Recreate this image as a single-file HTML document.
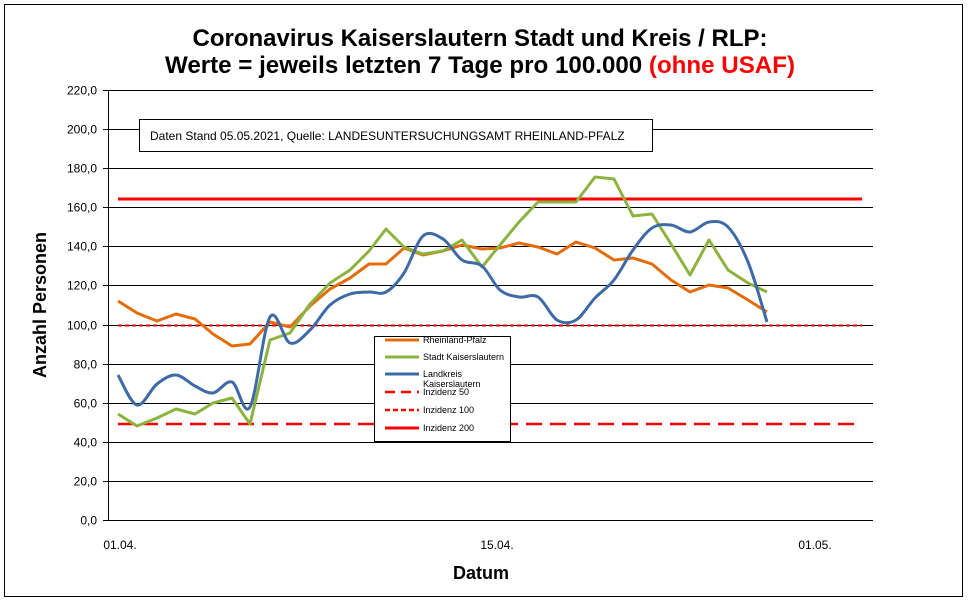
<!DOCTYPE html>
<html><head><meta charset="utf-8"><style>html,body{margin:0;padding:0;background:#fff}svg{display:block}</style></head>
<body>
<svg id="s" width="969" height="602" xmlns="http://www.w3.org/2000/svg" font-family="Liberation Sans, sans-serif">
<rect x="4.5" y="4.5" width="958" height="592" fill="#fff" stroke="#000" stroke-width="1"/>
<text x="480" y="46" font-size="24" font-weight="bold" text-anchor="middle" textLength="575" lengthAdjust="spacingAndGlyphs">Coronavirus Kaiserslautern Stadt und Kreis / RLP:</text>
<text x="165" y="73" font-size="24" font-weight="bold" textLength="630" lengthAdjust="spacingAndGlyphs">Werte = jeweils letzten 7 Tage pro 100.000 <tspan fill="#f00">(ohne USAF)</tspan></text>
<g id="grid" stroke="#000" stroke-width="1"></g>
<line x1="108.5" y1="91" x2="108.5" y2="521" stroke="#000"/>
<g font-size="12" text-anchor="end" id="ylab"></g>
<g font-size="12" text-anchor="middle">
<text x="120" y="549">01.04.</text><text x="497" y="549">15.04.</text><text x="815" y="549">01.05.</text>
</g>
<text x="481" y="579" font-size="18" font-weight="bold" text-anchor="middle">Datum</text>
<text transform="translate(46,305) rotate(-90)" font-size="18" font-weight="bold" text-anchor="middle">Anzahl Personen</text>
<line x1="118" y1="199" x2="862" y2="199" stroke="#f00" stroke-width="3"/>
<line x1="118" y1="325.5" x2="862" y2="325.5" stroke="#e00" stroke-width="2" stroke-dasharray="4,3"/>
<line x1="118" y1="424" x2="862" y2="424" stroke="#f00" stroke-width="2.5" stroke-dasharray="16,8"/>
<path id="po" fill="none" stroke="#e46c0a" stroke-width="3" stroke-linejoin="round"/>
<path id="pg" fill="none" stroke="#8db33f" stroke-width="3" stroke-linejoin="round"/>
<path id="pb" fill="none" stroke="#3f6aa8" stroke-width="3" stroke-linejoin="round"/>
<rect x="139.5" y="119.5" width="513" height="32" fill="#fff" stroke="#000"/>
<text x="150" y="140" font-size="12">Daten Stand 05.05.2021, Quelle: LANDESUNTERSUCHUNGSAMT RHEINLAND-PFALZ</text>
<rect x="374.5" y="336.5" width="136" height="105" fill="#fff" stroke="#000"/>
<g font-size="9" fill="#000">
<line x1="385" y1="340" x2="419" y2="340" stroke="#e46c0a" stroke-width="3"/><text x="423" y="343">Rheinland-Pfalz</text>
<line x1="385" y1="357" x2="419" y2="357" stroke="#8db33f" stroke-width="3"/><text x="423" y="360">Stadt Kaiserslautern</text>
<line x1="385" y1="374" x2="419" y2="374" stroke="#3f6aa8" stroke-width="3"/><text x="423" y="377">Landkreis</text><text x="423" y="387">Kaiserslautern</text>
<line x1="385" y1="392" x2="419" y2="392" stroke="#f00" stroke-width="2.5" stroke-dasharray="10,6"/><text x="423" y="395">Inzidenz 50</text>
<line x1="385" y1="410" x2="419" y2="410" stroke="#f00" stroke-width="2.5" stroke-dasharray="5,3"/><text x="423" y="413">Inzidenz 100</text>
<line x1="385" y1="428" x2="419" y2="428" stroke="#f00" stroke-width="3"/><text x="423" y="431">Inzidenz 200</text>
</g>
</svg>
<script>
var g=document.getElementById('grid'),yl=document.getElementById('ylab'),ns='http://www.w3.org/2000/svg';
for(var i=0;i<=11;i++){var y=Math.round(520-i*39.1)+0.5;var l=document.createElementNS(ns,'line');l.setAttribute('x1',103);l.setAttribute('x2',873);l.setAttribute('y1',y);l.setAttribute('y2',y);g.appendChild(l);
var t=document.createElementNS(ns,'text');t.setAttribute('x',97);t.setAttribute('y',y+4);t.textContent=(i*20)+',0';yl.appendChild(t);}
var X=[118,137,157,176,195,213,232,250,270,290,310,330,350,369,386,404,423,443,462,482,500,519,538,557,576,595,614,633,652,671,690,709,728,748,767];
var O=[301,313,321,314,319,334,346,344,322,327,306,289,278,264,264,248,255,251,245,249,248,243,247,254,242,248,260,258,264,280,292,285,288,300,312];
var G=[414,426,418,409,414,403,398,424,340,333,304,283,270,251,229,247,254,251,240,267,245,222,202,202,202,177,179,216,214,244,275,240,270,283,292];
var B=[375,405,384,375,386,393,382,407,317,343,330,305,294,292,292,273,236,239,260,266,290,297,297,320,320,298,280,250,228,225,232,222,227,262,322];
function lin(Y){return 'M'+X.map(function(x,i){return x+','+Y[i]}).join('L');}
function sm(Y){var d='M'+X[0]+','+Y[0];for(var i=0;i<X.length-1;i++){var x0=X[Math.max(i-1,0)],y0=Y[Math.max(i-1,0)],x3=X[Math.min(i+2,X.length-1)],y3=Y[Math.min(i+2,X.length-1)];
d+='C'+(X[i]+(X[i+1]-x0)/6)+','+(Y[i]+(Y[i+1]-y0)/6)+' '+(X[i+1]-(x3-X[i])/6)+','+(Y[i+1]-(y3-Y[i])/6)+' '+X[i+1]+','+Y[i+1];}return d;}
document.getElementById('po').setAttribute('d',lin(O));
document.getElementById('pg').setAttribute('d',lin(G));
document.getElementById('pb').setAttribute('d',sm(B));
</script>
</body></html>
